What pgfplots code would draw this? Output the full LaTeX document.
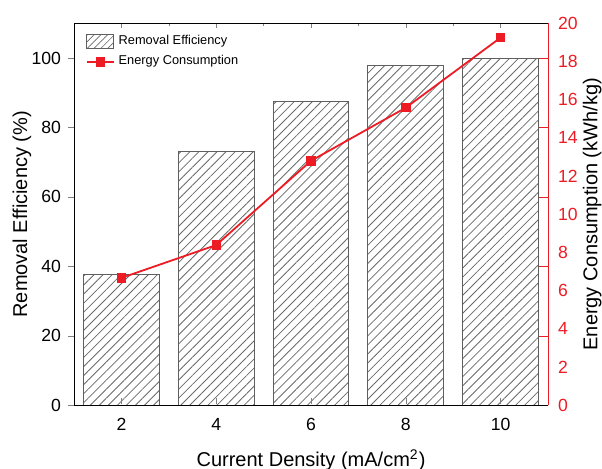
\documentclass[border=0pt]{standalone}
\usepackage{fontspec}
\setmainfont{Liberation Sans}
\usepackage{pgfplots}
\pgfplotsset{compat=1.18}
\usetikzlibrary{patterns.meta,calc}
\definecolor{ered}{RGB}{237,28,36}
\definecolor{hatch}{RGB}{105,105,105}
\definecolor{barline}{RGB}{95,95,95}
\pgfplotsset{base/.style={width=237pt,height=191pt,scale only axis,xmin=1,xmax=11,
    /pgf/number format/assume math mode=true,
    tick label style={font=\fontsize{8.8}{10}\selectfont},
    label style={font=\fontsize{10}{12}\selectfont}},
  shortline/.style={legend image code/.code={%
    \draw[mark repeat=2,mark phase=2,##1] plot coordinates {(0pt,0pt) (6.75pt,0pt) (13.5pt,0pt)};}},
  shortbox/.style={legend image code/.code={%
    \draw[draw=barline,line width=0.5pt,pattern={Lines[angle=45,distance=2.4pt,line width=0.35pt]},
      pattern color=hatch] (0pt,-3.5pt) rectangle (13.5pt,3.5pt);}}}

\begin{document}
\begin{tikzpicture}
% bars, bottom x axis, left y axis
\begin{axis}[base,name=ax,ymin=0,ymax=110,
  axis x line*=bottom,axis y line*=left,axis on top,
  tick align=outside,major tick length=3pt,xtick style={yshift=3.5pt},
  xtick={2,4,...,10},ytick={0,20,...,100},
  xlabel={Current Density (mA/cm\textsuperscript{2})},ylabel={Removal Efficiency (\%)},
  xlabel style={at={(axis description cs:0.5,-0.144)},anchor=center},
  ylabel style={at={(axis description cs:-0.11,0.5)},anchor=center}]
  \addplot[ybar,bar width=1.6,draw=barline,line width=0.5pt,
    pattern={Lines[angle=45,distance=3.2pt,line width=0.4pt]},pattern color=hatch]
    coordinates {(2,37.6) (4,73.0) (6,87.6) (8,97.8) (10,100.0)};
\end{axis}
% top ticks
\begin{axis}[base,ymin=0,ymax=1,axis x line*=top,axis y line=none,
  tick align=inside,xtick={2,4,...,10},minor xtick={3,5,7,9},xticklabels={},
  major tick length=2.5pt,minor tick length=1.5pt,ytick=\empty]
\end{axis}
% right ticks (at the left axis' tick positions)
\begin{axis}[base,ymin=0,ymax=110,axis y line*=right,axis x line=none,
  xtick=\empty,ytick={20,40,...,100},yticklabels={},tick align=inside,
  major tick length=4.5pt,y axis line style={draw=ered},ytick style={draw=ered}]
\end{axis}
% energy consumption
\begin{axis}[base,ymin=0,ymax=20,axis y line*=right,axis x line=none,
  xtick=\empty,ytick={0,2,...,20},ytick style={draw=none},
  y axis line style={draw=ered},yticklabel style={text=ered,xshift=1.5pt},
  ylabel={Energy Consumption (kWh/kg)},
  every axis y label/.style={at={(axis description cs:1.093,0.5)},rotate=90,anchor=center},
  legend style={at={(axis description cs:0.02,0.985)},anchor=north west,draw=none,fill=none,
    font=\fontsize{6.4}{7.5}\selectfont,inner sep=1pt,row sep=0pt},
  legend cell align=left]
  \addlegendimage{shortbox}
  \addplot[color=ered,line width=0.9pt,mark=square*,mark size=1.9pt,shortline]
    coordinates {(2,6.67) (4,8.39) (6,12.8) (8,15.58) (10,19.25)};
  \legend{Removal Efficiency,Energy Consumption}
\end{axis}
\pgfresetboundingbox
\path[use as bounding box] ($(ax.south west)+(-37pt,-31.5pt)$) rectangle ($(ax.north east)+(27pt,11.65pt)$);
\end{tikzpicture}
\end{document}
